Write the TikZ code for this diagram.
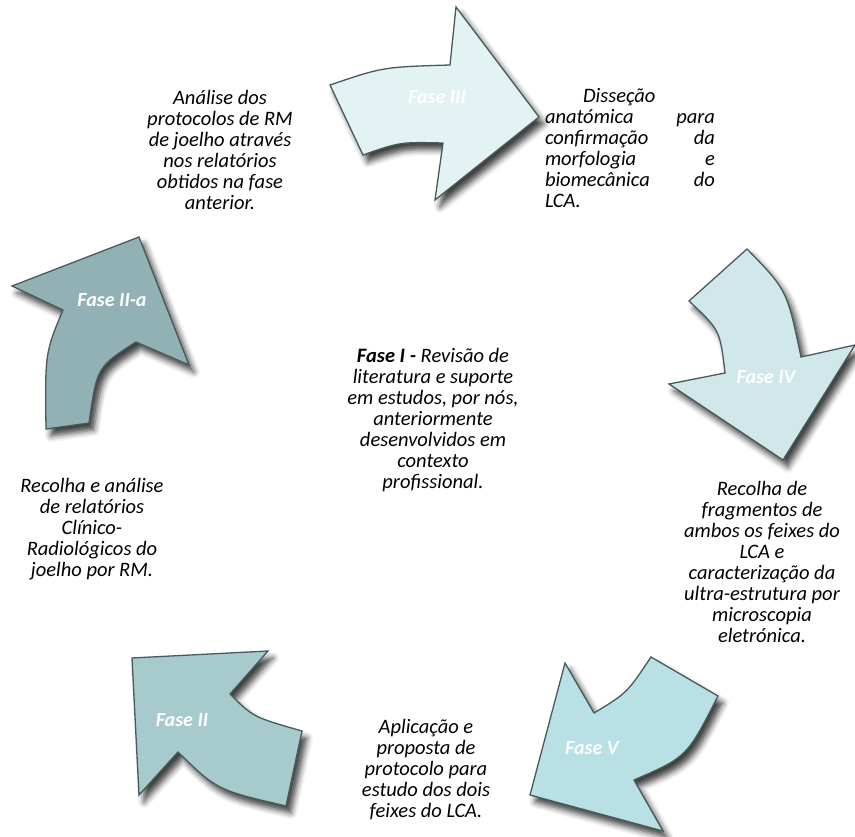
\documentclass[tikz,border=0pt]{standalone}
\usepackage{fontspec}
\setmainfont{Carlito}
\usetikzlibrary{shadows.blur}
\definecolor{faseiii}{RGB}{227,242,243}
\definecolor{faseiv}{RGB}{208,232,234}
\definecolor{fasev}{RGB}{185,224,228}
\definecolor{faseii}{RGB}{167,202,205}
\definecolor{faseiia}{RGB}{145,177,180}
\definecolor{rim}{RGB}{72,90,91}
\tikzset{
  phase/.style={draw=rim,line width=1.3pt,line join=miter,
                blur shadow={shadow xshift=5pt,shadow yshift=-7pt,
                             shadow blur radius=6pt,shadow opacity=75}},
  phaselab/.style={text=white,font=\fontsize{20}{21}\selectfont\bfseries\itshape},
  note/.style={font=\fontsize{20.5}{21}\selectfont\itshape,align=center,inner sep=0pt},
}
\begin{document}
\begin{tikzpicture}[x=1pt,y=-1pt]
  \useasboundingbox (0,0) rectangle (855,837);

  % curved arrows around the cycle
  \filldraw[phase,fill=faseiii] (330,85) .. controls (383,67) .. (450,65) -- (456,7) -- (539,117)
    -- (435,200) -- (443,143) .. controls (400,142) .. (363,155) -- cycle;
  \filldraw[phase,fill=faseiv] (689,301) -- (747,249) .. controls (787,290) .. (801,357) -- (855,345)
    -- (783,460) -- (669,384) -- (725,373) .. controls (720,330) .. cycle;
  \filldraw[phase,fill=fasev] (651,657) -- (718,696) .. controls (687,757) .. (634,780) -- (663,831)
    -- (530,795) -- (565,663) -- (594,713) .. controls (627,693) .. cycle;
  \filldraw[phase,fill=faseii] (268,651) -- (132,658) -- (139,795) -- (178,752)
    .. controls (217,790) .. (286,806) -- (302,731) .. controls (253,717) .. (230,694) -- cycle;
  \filldraw[phase,fill=faseiia] (46,429) -- (89,423) .. controls (97,367) .. (136,342) -- (189,365)
    -- (139,237) -- (12,286) -- (63,310) .. controls (45,353) .. cycle;

  \node[phaselab] (L3) at (437,97) {Fase III};
  \node[phaselab] (L4) at (766,377) {Fase IV};
  \node[phaselab] (L5) at (592,748) {Fase V};
  \node[phaselab] (L2) at (182,720) {Fase II};
  \node[phaselab] (L2a) at (112,300) {Fase II-a};

  \node[note] (T1) at (433,420)
    {\textbf{Fase I -} Revisão de\\literatura e suporte\\em estudos, por nós,\\anteriormente\\desenvolvidos em\\contexto\\profissional.};
  \node[note] (T2a) at (220,150)
    {Análise dos\\protocolos de RM\\de joelho através\\nos relatórios\\obtidos na fase\\anterior.};
  \node[note,align=left,text width=170pt] (T3) at (630,148)
    {\hspace*{38pt}Disseção\\anatómica\hspace{0pt plus 1filll}para\\confirmação\hspace{0pt plus 1filll}da\\
     morfologia\hspace{0pt plus 1filll}e\\biomecânica\hspace{0pt plus 1filll}do\\LCA.};
  \node[note] (T4) at (762,562)
    {Recolha de\\fragmentos de\\ambos os feixes do\\LCA e\\caracterização da\\ultra-estrutura por\\microscopia\\eletrónica.};
  \node[note] (T5) at (426,770)
    {Aplicação e\\proposta de\\protocolo para\\estudo dos dois\\feixes do LCA.};
  \node[note] (T2) at (92,529)
    {Recolha e análise\\de relatórios\\Clínico-\\Radiológicos do\\joelho por RM.};
\end{tikzpicture}
\end{document}
